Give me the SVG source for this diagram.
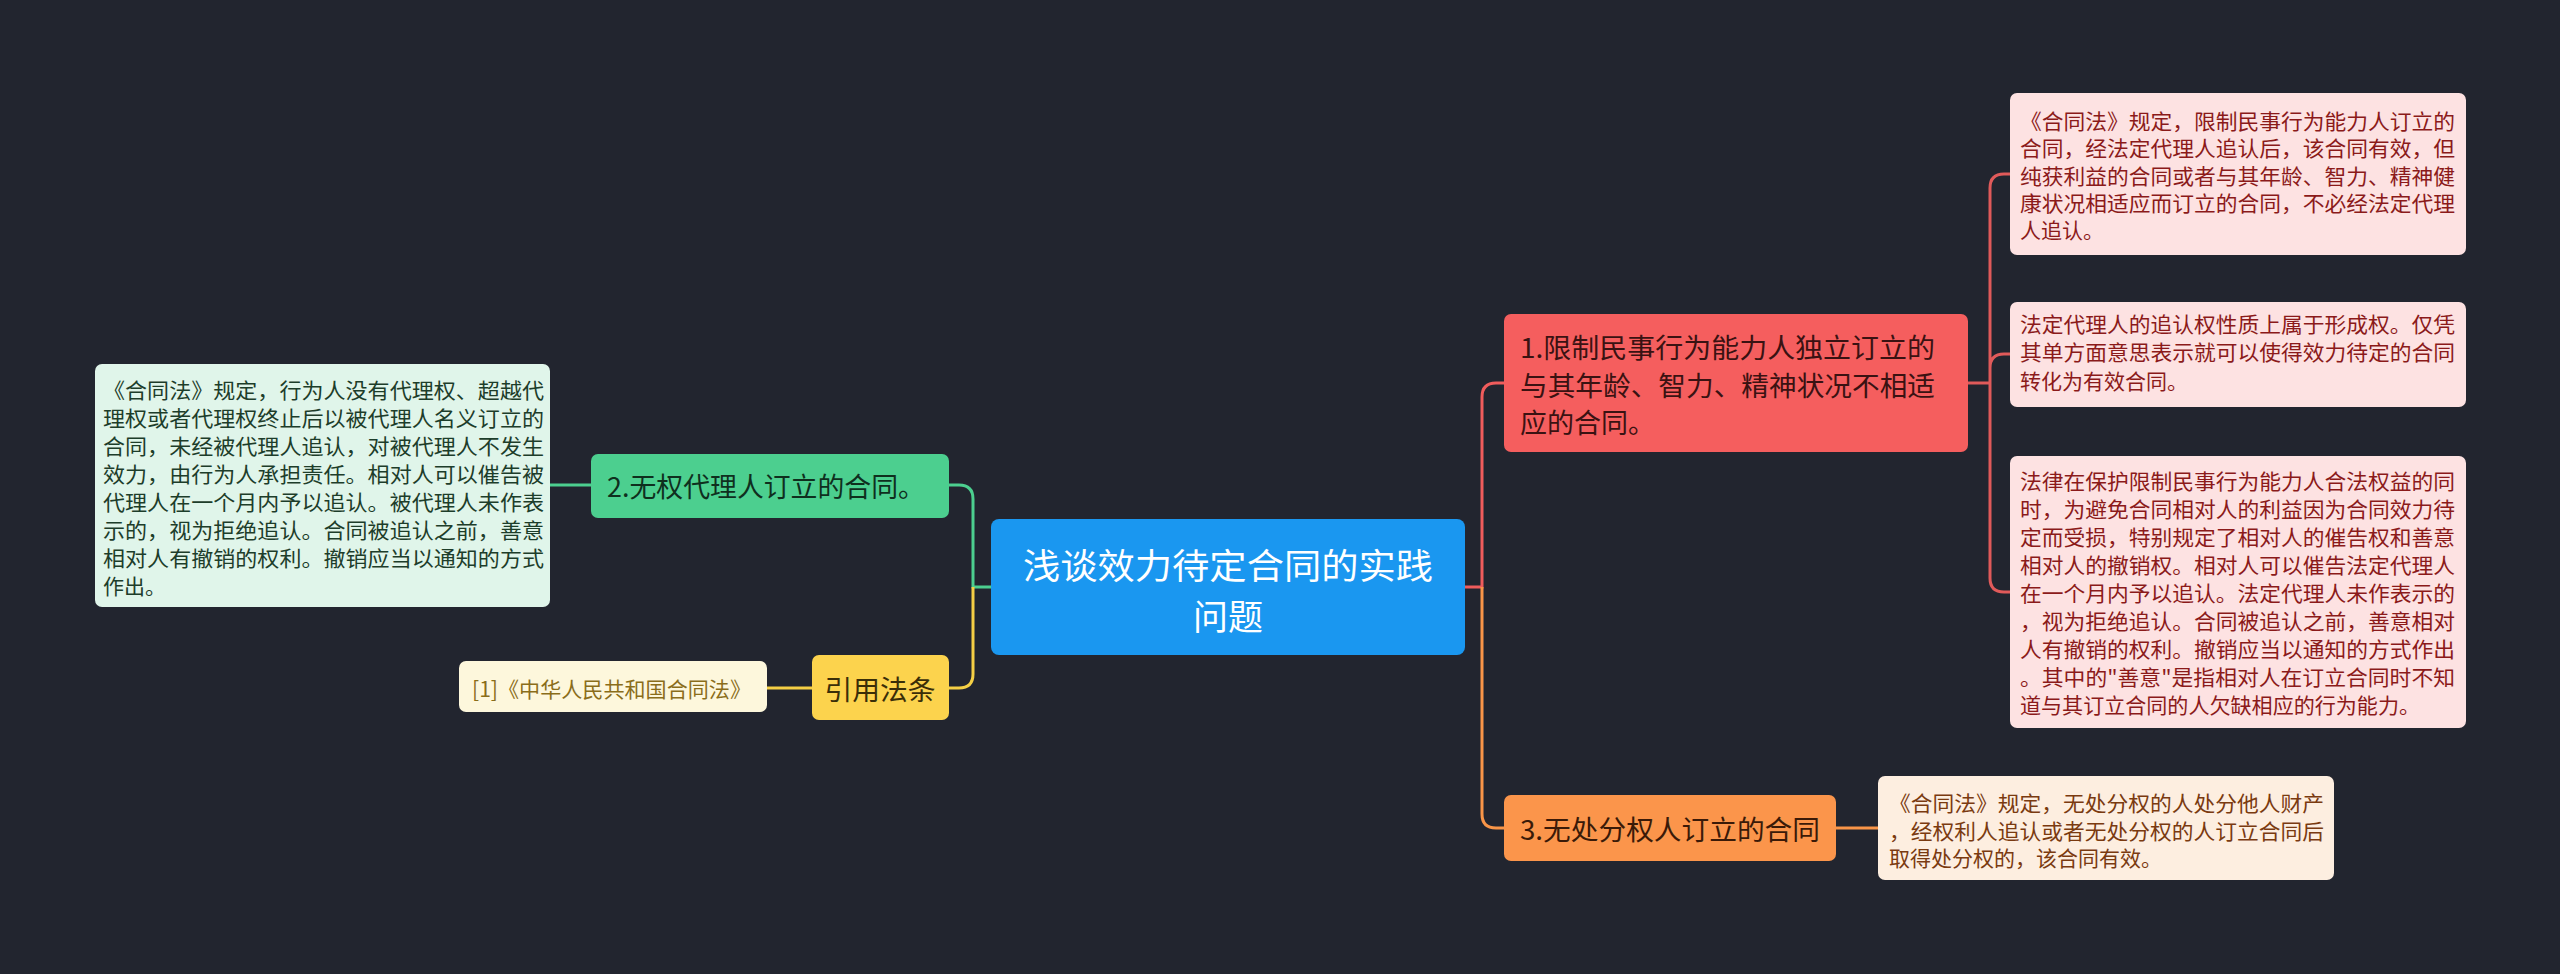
<svg xmlns="http://www.w3.org/2000/svg" width="2560" height="974" viewBox="0 0 2560 974">
<style>
text{font-family:"Noto Sans CJK SC","Liberation Sans",sans-serif;dominant-baseline:central}
.n{font-size:21px}
.t{font-size:27px}
.c{fill:none;stroke-width:3}
</style>
<rect width="2560" height="974" fill="#22252f"/>
<g id="connectors">
<path class="c" stroke="#f05c5c" d="M1465,587 H1482 V397 Q1482,383 1496,383 H1504"/>
<path class="c" stroke="#f99548" d="M1482,587 V814 Q1482,828 1496,828 H1504"/>
<path class="c" stroke="#4ccf8f" d="M991,587 H973 V499 Q973,485 959,485 H949"/>
<path class="c" stroke="#f5cf45" d="M973,587 V674 Q973,688 959,688 H949"/>
<path class="c" stroke="#4ccf8f" d="M591,485 H550"/>
<path class="c" stroke="#f5cf45" d="M812,688 H767"/>
<path class="c" stroke="#e05a5a" d="M1968,383 H1990 M1990,188 Q1990,174 2004,174 H2010 M1990,188 V578 Q1990,592 2004,592 H2010 M1990,368 Q1990,354 2004,354 H2010"/>
<path class="c" stroke="#f99548" d="M1836,828 H1878"/>
</g>
<g id="center">
<rect x="991" y="519" width="474" height="136" rx="8" fill="#1a97f0"/>
<text x="1228" y="563" text-anchor="middle" font-size="35" fill="#fff" textLength="410" lengthAdjust="spacingAndGlyphs">浅谈效力待定合同的实践</text>
<text x="1228" y="614" text-anchor="middle" font-size="35" fill="#fff">问题</text>
</g>
<g id="topic1">
<rect x="1504" y="314" width="464" height="138" rx="7" fill="#f55e5e"/>
<g class="t" fill="#3a1212">
<text x="1520" y="346" textLength="415" lengthAdjust="spacingAndGlyphs">1.限制民事行为能力人独立订立的</text>
<text x="1520" y="384" textLength="415" lengthAdjust="spacingAndGlyphs">与其年龄、智力、精神状况不相适</text>
<text x="1520" y="421">应的合同。</text>
</g>
</g>
<g id="topic3">
<rect x="1504" y="795" width="332" height="66" rx="7" fill="#fb954b"/>
<text class="t" x="1520" y="828" fill="#3a1a08" textLength="300" lengthAdjust="spacingAndGlyphs">3.无处分权人订立的合同</text>
</g>
<g id="topic2">
<rect x="591" y="454" width="358" height="64" rx="7" fill="#4ccf8f"/>
<text class="t" x="607" y="485" fill="#0f2f1e" textLength="318" lengthAdjust="spacingAndGlyphs">2.无权代理人订立的合同。</text>
</g>
<g id="cite">
<rect x="812" y="655" width="137" height="65" rx="7" fill="#fcd34d"/>
<text class="t" x="880" y="688" text-anchor="middle" fill="#3a2e08" textLength="111" lengthAdjust="spacingAndGlyphs">引用法条</text>
</g>
<g id="note-left">
<rect x="95" y="364" width="455" height="243" rx="7" fill="#e0f5ea"/>
<g class="n" fill="#1d3d2a">
<text x="103" y="389" textLength="441" lengthAdjust="spacingAndGlyphs">《合同法》规定，行为人没有代理权、超越代</text>
<text x="103" y="417" textLength="441" lengthAdjust="spacingAndGlyphs">理权或者代理权终止后以被代理人名义订立的</text>
<text x="103" y="445" textLength="441" lengthAdjust="spacingAndGlyphs">合同，未经被代理人追认，对被代理人不发生</text>
<text x="103" y="473" textLength="441" lengthAdjust="spacingAndGlyphs">效力，由行为人承担责任。相对人可以催告被</text>
<text x="103" y="501" textLength="441" lengthAdjust="spacingAndGlyphs">代理人在一个月内予以追认。被代理人未作表</text>
<text x="103" y="529" textLength="441" lengthAdjust="spacingAndGlyphs">示的，视为拒绝追认。合同被追认之前，善意</text>
<text x="103" y="557" textLength="441" lengthAdjust="spacingAndGlyphs">相对人有撤销的权利。撤销应当以通知的方式</text>
<text x="103" y="585">作出。</text>
</g>
</g>
<g id="note-cite">
<rect x="459" y="661" width="308" height="51" rx="7" fill="#fdf7dc"/>
<text class="n" x="472" y="688" fill="#8a6d1a" textLength="279" lengthAdjust="spacingAndGlyphs">[1]《中华人民共和国合同法》</text>
</g>
<g id="note-r1">
<rect x="2010" y="93" width="456" height="162" rx="7" fill="#fde2e2"/>
<g class="n" fill="#8b1a1a">
<text x="2020" y="120" textLength="435" lengthAdjust="spacingAndGlyphs">《合同法》规定，限制民事行为能力人订立的</text>
<text x="2020" y="147" textLength="435" lengthAdjust="spacingAndGlyphs">合同，经法定代理人追认后，该合同有效，但</text>
<text x="2020" y="175" textLength="435" lengthAdjust="spacingAndGlyphs">纯获利益的合同或者与其年龄、智力、精神健</text>
<text x="2020" y="202" textLength="435" lengthAdjust="spacingAndGlyphs">康状况相适应而订立的合同，不必经法定代理</text>
<text x="2020" y="229">人追认。</text>
</g>
</g>
<g id="note-r2">
<rect x="2010" y="302" width="456" height="105" rx="7" fill="#fde2e2"/>
<g class="n" fill="#8b1a1a">
<text x="2020" y="323" textLength="435" lengthAdjust="spacingAndGlyphs">法定代理人的追认权性质上属于形成权。仅凭</text>
<text x="2020" y="351" textLength="435" lengthAdjust="spacingAndGlyphs">其单方面意思表示就可以使得效力待定的合同</text>
<text x="2020" y="380">转化为有效合同。</text>
</g>
</g>
<g id="note-r3">
<rect x="2010" y="456" width="456" height="272" rx="7" fill="#fde2e2"/>
<g class="n" fill="#8b1a1a">
<text x="2020" y="480" textLength="435" lengthAdjust="spacingAndGlyphs">法律在保护限制民事行为能力人合法权益的同</text>
<text x="2020" y="508" textLength="435" lengthAdjust="spacingAndGlyphs">时，为避免合同相对人的利益因为合同效力待</text>
<text x="2020" y="536" textLength="435" lengthAdjust="spacingAndGlyphs">定而受损，特别规定了相对人的催告权和善意</text>
<text x="2020" y="564" textLength="435" lengthAdjust="spacingAndGlyphs">相对人的撤销权。相对人可以催告法定代理人</text>
<text x="2020" y="592" textLength="435" lengthAdjust="spacingAndGlyphs">在一个月内予以追认。法定代理人未作表示的</text>
<text x="2020" y="620" textLength="435" lengthAdjust="spacingAndGlyphs">，视为拒绝追认。合同被追认之前，善意相对</text>
<text x="2020" y="648" textLength="435" lengthAdjust="spacingAndGlyphs">人有撤销的权利。撤销应当以通知的方式作出</text>
<text x="2020" y="676" textLength="435" lengthAdjust="spacingAndGlyphs">。其中的"善意"是指相对人在订立合同时不知</text>
<text x="2020" y="704" textLength="400" lengthAdjust="spacingAndGlyphs">道与其订立合同的人欠缺相应的行为能力。</text>
</g>
</g>
<g id="note-r4">
<rect x="1878" y="776" width="456" height="104" rx="7" fill="#fdeee0"/>
<g class="n" fill="#7a3a10">
<text x="1889" y="802" textLength="435" lengthAdjust="spacingAndGlyphs">《合同法》规定，无处分权的人处分他人财产</text>
<text x="1889" y="830" textLength="435" lengthAdjust="spacingAndGlyphs">，经权利人追认或者无处分权的人订立合同后</text>
<text x="1889" y="857">取得处分权的，该合同有效。</text>
</g>
</g>
</svg>
